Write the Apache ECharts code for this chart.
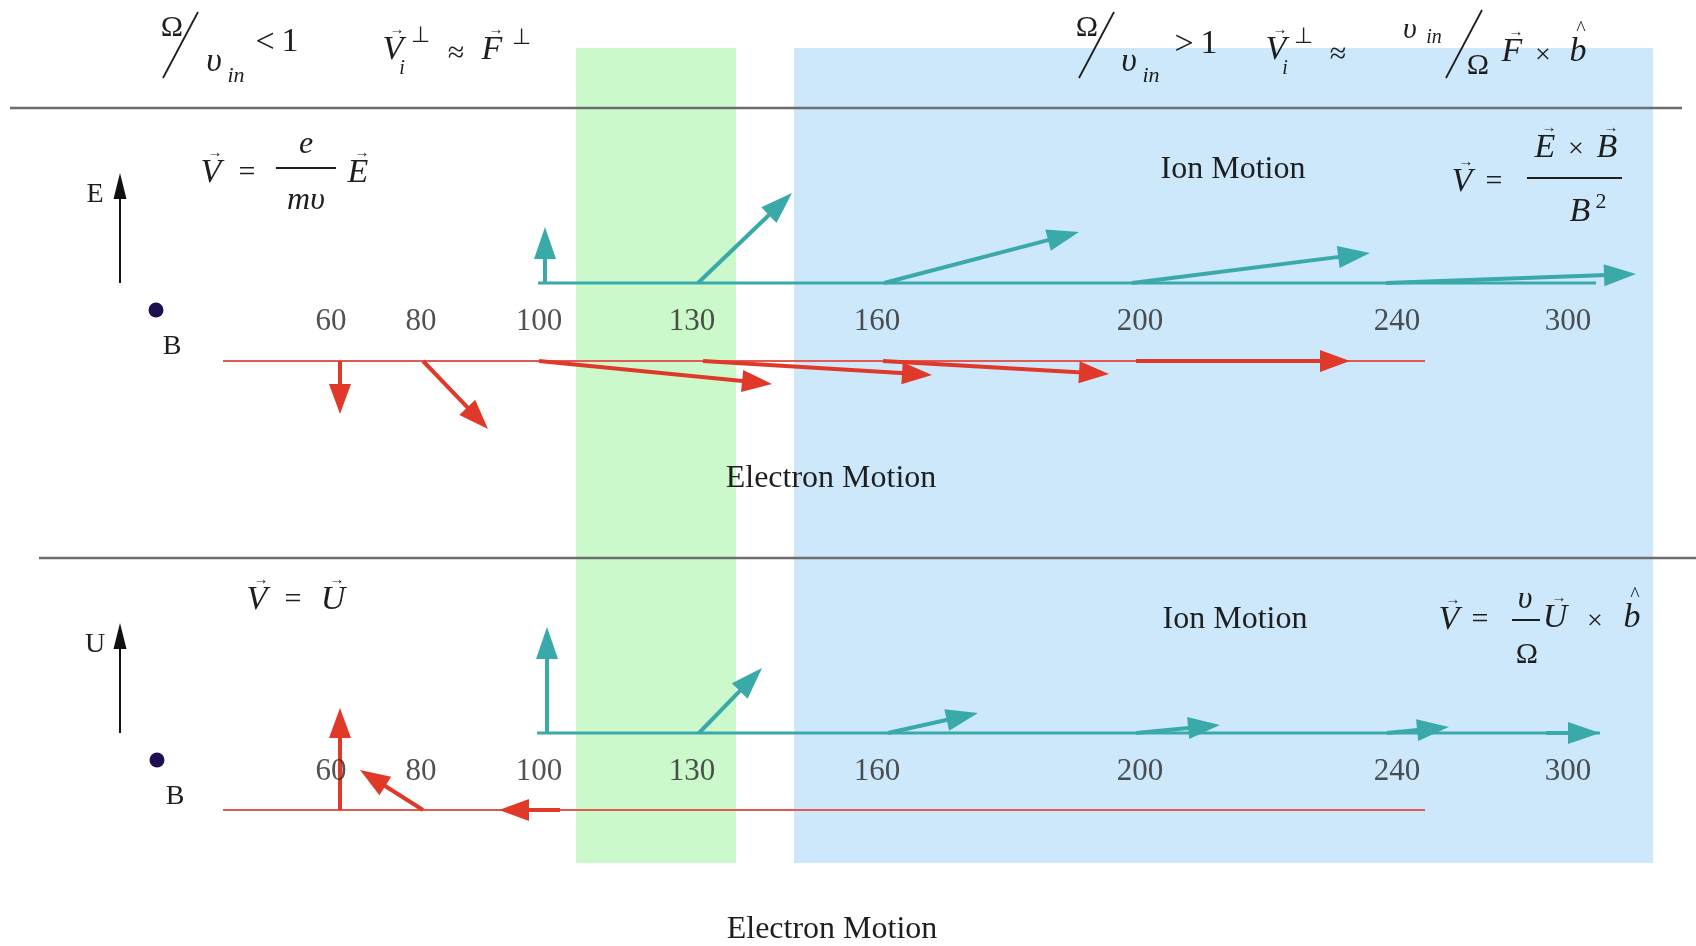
<!DOCTYPE html>
<html>
<head>
<meta charset="utf-8">
<script src="https://cdn.jsdelivr.net/npm/echarts@6/dist/echarts.min.js"></script>
<style>
html,body{margin:0;padding:0;background:#fff;}
#chart{width:1696px;height:946px;}
</style>
</head>
<body>
<div id="chart"></div>
<script>
// ---------- DATA ----------
// altitude stations (km) and their schematic position along the diagram axis
const altitudes = ['60', '80', '100', '130', '160', '200', '240', '300'];
const altitudeX = [331, 421, 539, 692, 877, 1140, 1397, 1568];

// regime bands along the diagram axis: [start, end]
const transitionBand = [576, 736];   // Omega/nu_in ~ 1 (green)
const ionDriftBand = [794, 1653];    // Omega/nu_in > 1 (blue)

// Panel 1: electric field forcing  (start position, dx, dy upward)
const ionE_x0 = [545, 698, 884, 1132, 1386];
const ionE_dx = [0, 94, 195, 238, 250];
const ionE_dy = [56, 90, 51, 30, 9];
const elecE_x0 = [340, 423, 539, 703, 883, 1136];
const elecE_dx = [0, 65, 233, 229, 226, 214];
const elecE_dy = [-53, -68, -23, -14, -13, 0];

// Panel 2: neutral wind forcing
const ionU_x0 = [547, 699, 888, 1136, 1387, 1546];
const ionU_dx = [0, 63, 90, 84, 62, 54];
const ionU_dy = [106, 65, 20, 8, 6, 0];
const elecU_x0 = [340, 423, 560];
const elecU_dx = [0, -63, -61];
const elecU_dy = [102, 40, 0];

// reference field arrows (E, U)
const fieldArrowX = [120];
const fieldArrowLen = [110];

// ---------- LAYOUT / STYLE ----------
const CYAN = '#3aa9aa', RED = '#e0392a', RED_LINE = '#e05a52', INK = '#1e1e1e';
const SERIF = '"Liberation Serif","Times New Roman",serif';
const P1 = {ion: 283, elec: 361, label: 322, dot: 310};
const P2 = {ion: 733, elec: 810, label: 772, dot: 760};
const bandTop = 48, bandBottom = 863;

function arrowSeries(name, x0s, dxs, dys, baseY, color, width, headL, headW) {
  return {
    type: 'custom', name, coordinateSystem: 'cartesian2d', clip: false, silent: true, z: 5,
    data: x0s.map((x, i) => [x, dxs[i], dys[i]]),
    renderItem(params, api) {
      const a = api.coord([api.value(0), baseY]);
      const b = api.coord([api.value(0) + api.value(1), baseY - api.value(2)]);
      const vx = b[0] - a[0], vy = b[1] - a[1];
      const len = Math.hypot(vx, vy) || 1;
      const ux = vx / len, uy = vy / len;
      const bx = b[0] - ux * headL, by = b[1] - uy * headL;
      const px = -uy, py = ux;
      return {type: 'group', children: [
        {type: 'line', shape: {x1: a[0], y1: a[1], x2: bx + ux * 3, y2: by + uy * 3},
          style: {stroke: color, lineWidth: width}},
        {type: 'polygon', shape: {points: [[b[0], b[1]], [bx + px * headW / 2, by + py * headW / 2], [bx - px * headW / 2, by - py * headW / 2]]},
          style: {fill: color}}
      ]};
    }
  };
}

function baselineSeries(name, x0, x1, y, color, width) {
  return {
    type: 'custom', name, coordinateSystem: 'cartesian2d', clip: false, silent: true, z: 3,
    data: [[x0, x1]],
    renderItem(params, api) {
      const a = api.coord([api.value(0), y]), b = api.coord([api.value(1), y]);
      return {type: 'line', shape: {x1: a[0], y1: a[1], x2: b[0], y2: b[1]}, style: {stroke: color, lineWidth: width}};
    }
  };
}

function labelSeries(name, y) {
  return {
    type: 'scatter', name, symbolSize: 0, silent: true, z: 6,
    data: altitudeX.map((x, i) => ({value: [x, y], name: altitudes[i]})),
    label: {show: true, position: 'inside', formatter: p => p.name, fontFamily: SERIF, fontSize: 31, color: '#262626'}
  };
}

function T(x, y, s, size, italic, extra) {
  return Object.assign({type: 'text', x, y, z: 100, silent: true,
    style: {text: s, font: (italic ? 'italic ' : '') + size + 'px ' + SERIF, fill: INK,
      textAlign: 'center', textVerticalAlign: 'middle', align: 'center', verticalAlign: 'middle'}}, extra || {});
}
function L(x1, y1, x2, y2, w, c) {
  return {type: 'line', z: 100, silent: true, shape: {x1, y1, x2, y2}, style: {stroke: c || INK, lineWidth: w || 1.6}};
}
function vec(x, y) { return T(x, y, '→', 15, false); }

const texts = [
  // top-left regime
  T(172, 28, 'Ω', 30), L(163, 78, 198, 12, 1.8), T(214, 62, 'υ', 34, true), T(236, 76, 'in', 22, true),
  T(265, 43, '<', 34), T(290, 42, '1', 34),
  T(393, 50, 'V', 34, true), vec(397, 30), T(402, 69, 'i', 20, true), T(420, 36, '⊥', 22),
  T(456, 54, '≈', 30), T(492, 50, 'F', 34, true), vec(496, 30), T(521, 38, '⊥', 22),
  // top-right regime
  T(1087, 28, 'Ω', 30), L(1079, 78, 1114, 12, 1.8), T(1129, 62, 'υ', 34, true), T(1151, 76, 'in', 22, true),
  T(1184, 45, '>', 34), T(1209, 44, '1', 34),
  T(1276, 50, 'V', 34, true), vec(1280, 30), T(1285, 69, 'i', 20, true), T(1303, 37, '⊥', 22),
  T(1338, 55, '≈', 30), T(1410, 30, 'υ', 30, true), T(1434, 38, 'in', 20, true),
  L(1446, 78, 1482, 10, 1.8), T(1478, 66, 'Ω', 30),
  T(1512, 52, 'F', 34, true), vec(1516, 32), T(1543, 56, '×', 28), T(1578, 52, 'b', 34, true), T(1581, 30, '^', 20),
  // panel 1 formulas
  T(211, 173, 'V', 34, true), vec(215, 153), T(247, 173, '=', 30), L(276, 168, 336, 168, 2),
  T(306, 145, 'e', 32, true), T(306, 201, 'mυ', 32, true), T(358, 173, 'E', 34, true), vec(362, 153),
  T(1462, 182, 'V', 34, true), vec(1466, 162), T(1494, 182, '=', 30), L(1527, 178, 1622, 178, 2),
  T(1545, 148, 'E', 34, true), vec(1549, 128), T(1576, 150, '×', 28), T(1607, 148, 'B', 34, true), vec(1611, 128),
  T(1580, 212, 'B', 34, true), T(1601, 202, '2', 22),
  // panel 2 formulas
  T(257, 600, 'V', 34, true), vec(261, 580), T(293, 600, '=', 30), T(333, 600, 'U', 34, true), vec(337, 580),
  T(1449, 620, 'V', 34, true), vec(1453, 600), T(1480, 620, '=', 30), T(1525, 600, 'υ', 32, true),
  L(1512, 620, 1540, 620, 2), T(1527, 655, 'Ω', 30),
  T(1555, 618, 'U', 34, true), vec(1559, 598), T(1595, 622, '×', 28), T(1632, 618, 'b', 34, true), T(1635, 596, '^', 20),
  // labels
  T(95, 195, 'E', 28), T(95, 645, 'U', 28), T(172, 347, 'B', 28), T(175, 797, 'B', 28),
  T(1233, 170, 'Ion Motion', 32), T(1235, 620, 'Ion Motion', 32),
  T(831, 479, 'Electron Motion', 32), T(832, 930, 'Electron Motion', 32),
  // dividers
  L(10, 108, 1682, 108, 2.5, '#6e6e6e'), L(39, 558, 1696, 558, 2.5, '#6e6e6e')
];

const chart = echarts.init(document.getElementById('chart'), null, {renderer: 'canvas'});
chart.setOption({
  animation: false,
  backgroundColor: '#ffffff',
  grid: {left: 0, right: 0, top: 0, bottom: 0},
  xAxis: {type: 'value', min: 0, max: 1696, show: false},
  yAxis: {type: 'value', min: 0, max: 946, inverse: true, show: false},
  graphic: {elements: texts},
  series: [
    {
      type: 'custom', name: 'regimes', coordinateSystem: 'cartesian2d', silent: true, z: 1,
      data: [[transitionBand[0], transitionBand[1], 0], [ionDriftBand[0], ionDriftBand[1], 1]],
      renderItem(params, api) {
        const a = api.coord([api.value(0), bandTop]), b = api.coord([api.value(1), bandBottom]);
        return {type: 'rect', shape: {x: a[0], y: a[1], width: b[0] - a[0], height: b[1] - a[1]},
          style: {fill: api.value(2) === 0 ? '#ccf9cb' : '#cde8fb'}};
      }
    },
    baselineSeries('ion baseline E', 538, 1596, P1.ion, CYAN, 3),
    baselineSeries('electron baseline E', 223, 1425, P1.elec, RED_LINE, 2),
    baselineSeries('ion baseline U', 537, 1600, P2.ion, CYAN, 3),
    baselineSeries('electron baseline U', 223, 1425, P2.elec, RED_LINE, 2),
    arrowSeries('ion E', ionE_x0, ionE_dx, ionE_dy, P1.ion, CYAN, 4, 32, 22),
    arrowSeries('electron E', elecE_x0, elecE_dx, elecE_dy, P1.elec, RED, 4, 30, 22),
    arrowSeries('ion U', ionU_x0, ionU_dx, ionU_dy, P2.ion, CYAN, 4, 32, 22),
    arrowSeries('electron U', elecU_x0, elecU_dx, elecU_dy, P2.elec, RED, 4, 30, 22),
    arrowSeries('E field', fieldArrowX, [0], fieldArrowLen, P1.ion, '#111', 2, 26, 13),
    arrowSeries('U wind', fieldArrowX, [0], fieldArrowLen, P2.ion, '#111', 2, 26, 13),
    {
      type: 'scatter', name: 'B', symbolSize: 15, silent: true, z: 6,
      itemStyle: {color: '#1e1050', opacity: 1},
      data: [[156, P1.dot], [157, P2.dot]]
    },
    labelSeries('altitude E', P1.label),
    labelSeries('altitude U', P2.label)
  ]
});
</script>
</body>
</html>
